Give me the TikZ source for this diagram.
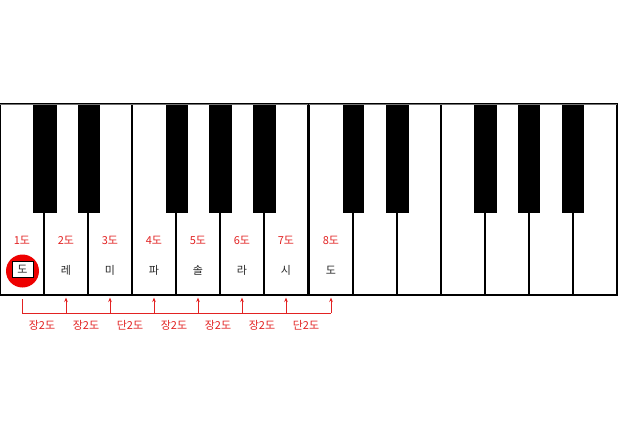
\documentclass[tikz,border=0pt]{standalone}
\usepackage{fontspec}
\newfontfamily\kr{Noto Sans CJK KR}
\usetikzlibrary{arrows.meta}
\definecolor{kred}{RGB}{226,34,34}
\definecolor{dotred}{RGB}{238,0,0}
\begin{document}
\begin{tikzpicture}[x=1pt,y=-1pt,
 whitekey/.style={draw=black,line width=1.4pt,fill=white,minimum width=44pt,minimum height=191pt,inner sep=0pt,outer sep=0pt,anchor=north west},
 blackkey/.style={fill=black,draw=none,minimum height=109pt,inner sep=0pt,outer sep=0pt,anchor=north west},
 lbl/.style={font=\kr\fontsize{11}{13}\selectfont,inner sep=0pt},
 deg/.style={lbl,text=kred},
 note/.style={lbl,text=black!85},
 interval/.style={lbl,text=kred},
 bracket/.style={draw=kred,line width=0.9pt},
 uparrow/.style={bracket,-{Stealth[length=4.5pt,width=3.5pt]}}]
\useasboundingbox (0,0) rectangle (618,437);
% white keys
\foreach \i in {1,...,7} \node[whitekey] (w\i) at ({(\i-1)*44},104) {};
\foreach \i in {8,...,14} \node[whitekey] (w\i) at ({309+(\i-8)*44},104) {};
% black keys
\foreach \n/\x/\w in {1/33/24,2/78/22,3/166/22,4/209/23,5/253/23,6/343/21,7/386/23,8/474/23,9/518/22,10/562/22}
  \node[blackkey,minimum width=\w pt] (b\n) at (\x,104) {};
% top border
\draw[black!55,line width=1pt] (w1.north west) -- (w7.north east);
\draw[black!55,line width=1pt] (w8.north west) -- (w14.north east);
% degree labels
\foreach \i in {1,...,8} \node[deg] (d\i) at (w\i.north |- 0,240) {\i{}도};
% note names
\node[circle,fill=dotred,minimum size=33pt,inner sep=0pt] (c1) at ([xshift=0.5pt]w1.north |- 0,271) {};
\node[note,draw=black,line width=0.6pt,fill=white,minimum width=21pt,minimum height=16pt] (n1) at ([xshift=0.5pt]w1.north |- 0,269) {도};
\foreach \i/\t in {2/레,3/미,4/파,5/솔,6/라,7/시,8/도} \node[note] (n\i) at (w\i.north |- 0,270) {\t};
% bracket
\coordinate (h1) at (w1.south |- 0,313);
\coordinate (h8) at (w8.south |- 0,313);
\draw[bracket] ([yshift=-4pt]w1.south) -- (h1) -- (h8);
\foreach \i in {2,...,8} \draw[uparrow] (w\i.south |- 0,313) -- ([yshift=-2.5pt]w\i.south);
% interval labels
\foreach \i/\t in {1/장,2/장,3/단,4/장,5/장,6/장,7/단} \node[interval,xshift=-2pt] (iv\i) at (w\i.south east |- 0,325) {\t{}2도};
\end{tikzpicture}
\end{document}
